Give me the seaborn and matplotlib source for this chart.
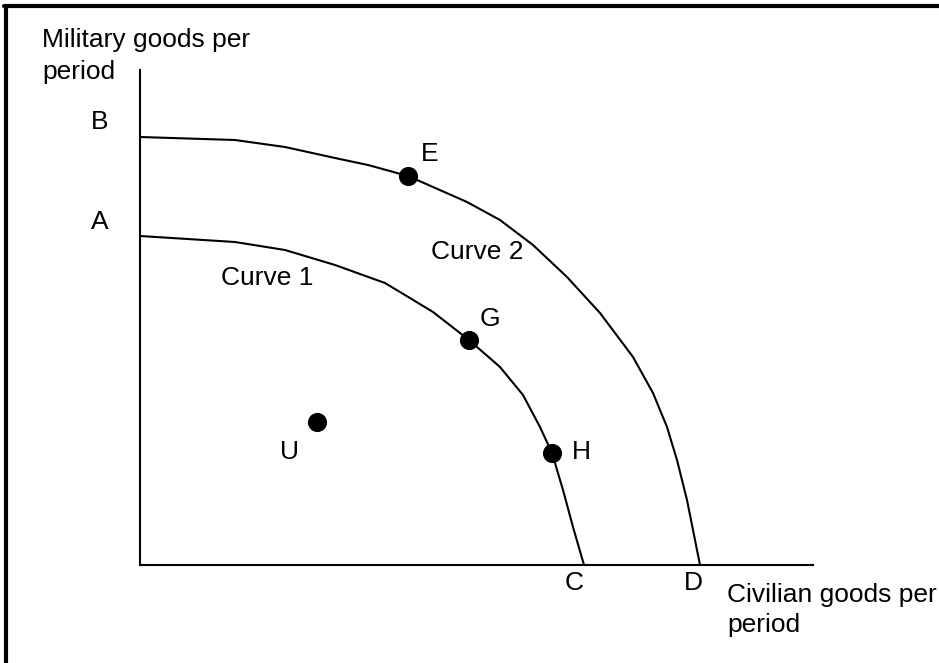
import seaborn as sns
import pandas as pd
import matplotlib.pyplot as plt
from matplotlib.lines import Line2D

# points (x = civilian goods, y = military goods)
curve1_x = [0, 9.5, 14.5, 19.5, 24.5, 26.0, 29.3, 32.9, 36.0, 38.3, 40.0, 41.2, 42.3, 43.3, 44.4]
curve1_y = [32.9, 32.3, 31.5, 30.0, 28.2, 27.3, 25.3, 22.5, 19.8, 17.0, 13.8, 11.2, 7.5, 3.8, 0]

curve2_x = [0, 9.5, 14.5, 19.5, 22.8, 26.8, 29.3, 32.7, 36.0, 39.3, 42.7, 46.0, 49.3,
            51.3, 52.7, 53.7, 54.7, 55.3, 56.0]
curve2_y = [42.8, 42.5, 41.8, 40.7, 40.0, 38.9, 37.8, 36.3, 34.5, 32.0, 28.8, 25.2, 20.8,
            17.2, 13.8, 10.5, 6.5, 3.5, 0]

point_names = ['E', 'G', 'H', 'U']
point_x = [26.8, 32.9, 41.2, 17.7]
point_y = [38.9, 22.5, 11.2, 14.3]

curves = pd.concat([
    pd.DataFrame({'civ': curve1_x, 'mil': curve1_y, 'curve': 'Curve 1'}),
    pd.DataFrame({'civ': curve2_x, 'mil': curve2_y, 'curve': 'Curve 2'}),
], ignore_index=True)
points = pd.DataFrame({'name': point_names, 'civ': point_x, 'mil': point_y})

sns.set_theme(style="white")
plt.rcParams['font.family'] = ['Liberation Sans', 'DejaVu Sans']
plt.rcParams['text.color'] = 'black'

fig = plt.figure(figsize=(9.39, 6.63), dpi=100)
ax = fig.add_axes([140 / 939, 98 / 663, 673 / 939, 495 / 663])

sns.lineplot(data=curves, x='civ', y='mil', units='curve', estimator=None,
             sort=False, color='black', linewidth=1.5, ax=ax,
             solid_joinstyle='round', solid_capstyle='round')
sns.scatterplot(data=points, x='civ', y='mil', color='black', s=190,
                edgecolor='black', linewidth=0, ax=ax, zorder=3, clip_on=False)

ax.set_xlim(0, 67.3)
ax.set_ylim(0, 49.5)
ax.set_xticks([])
ax.set_yticks([])
ax.set_xlabel('')
ax.set_ylabel('')
for side in ['top', 'right']:
    ax.spines[side].set_visible(False)
for side in ['left', 'bottom']:
    ax.spines[side].set_color('black')
    ax.spines[side].set_linewidth(1.5)

fs = 19
# point labels
ax.text(29.0, 41.1, 'E', fontsize=fs, ha='center', va='center')
ax.text(35.0, 24.6, 'G', fontsize=fs, ha='center', va='center')
ax.text(44.1, 11.3, 'H', fontsize=fs, ha='center', va='center')
ax.text(15.0, 11.3, 'U', fontsize=fs, ha='center', va='center')
ax.text(33.7, 31.3, 'Curve 2', fontsize=fs, ha='center', va='center')
ax.text(12.7, 28.7, 'Curve 1', fontsize=fs, ha='center', va='center')

# axis end labels
ax.text(-4.0, 44.3, 'B', fontsize=fs, ha='center', va='center', clip_on=False)
ax.text(-4.0, 34.3, 'A', fontsize=fs, ha='center', va='center', clip_on=False)
ax.text(43.4, -1.8, 'C', fontsize=fs, ha='center', va='center', clip_on=False)
ax.text(55.3, -1.8, 'D', fontsize=fs, ha='center', va='center', clip_on=False)
ax.text(-9.8, 52.5, 'Military goods per', fontsize=fs, ha='left', va='center', clip_on=False)
ax.text(-9.8, 49.3, 'period', fontsize=fs, ha='left', va='center', clip_on=False)
ax.text(58.7, -3.0, 'Civilian goods per', fontsize=fs, ha='left', va='center', clip_on=False)
ax.text(58.7, -6.0, 'period', fontsize=fs, ha='left', va='center', clip_on=False)

# frame around the picture (left and top edges only are visible)
fig.add_artist(Line2D([6 / 939, 6 / 939], [0, 1 - 6 / 663], transform=fig.transFigure,
                      color='black', linewidth=3))
fig.add_artist(Line2D([4 / 939, 1], [1 - 6 / 663, 1 - 6 / 663], transform=fig.transFigure,
                      color='black', linewidth=3))

fig.savefig('out.png', dpi=100)
